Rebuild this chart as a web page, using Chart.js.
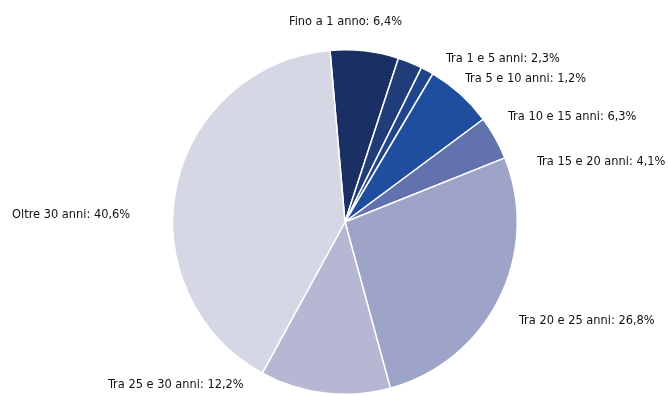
<!DOCTYPE html>
<html>
<head>
<meta charset="utf-8">
<script src="https://cdn.jsdelivr.net/npm/chart.js@4/dist/chart.umd.min.js"></script>
<style>
  html, body { margin: 0; padding: 0; background: #fff; }
  #wrap { width: 668px; height: 396px; position: relative; }
</style>
</head>
<body>
<div id="wrap"><canvas id="pieChart" width="668" height="396"></canvas></div>
<script>
const categories = [
    'Fino a 1 anno',
    'Tra 1 e 5 anni',
    'Tra 5 e 10 anni',
    'Tra 10 e 15 anni',
    'Tra 15 e 20 anni',
    'Tra 20 e 25 anni',
    'Tra 25 e 30 anni',
    'Oltre 30 anni',
];
const shares = [6.4, 2.3, 1.2, 6.3, 4.1, 26.8, 12.2, 40.6];
const sliceColors = ['#1a3064', '#203c79', '#21458b', '#1f4e9f', '#6272ae', '#9ea3c8', '#b6b8d3', '#d6d7e5'];

// left edge / vertical middle of each outside label
const labelAnchors = [
    [289, 22], [446, 59], [465, 79], [508, 117],
    [537, 162], [519, 321], [108, 385], [12, 215],
];

const fmt = (v) => v.toFixed(1).replace('.', ',') + '%';

const outsideLabels = {
    id: 'outsideLabels',
    afterDraw(chart) {
        const ctx = chart.ctx;
        ctx.save();
        ctx.font = '12.7px "Liberation Sans Narrow", "DejaVu Sans Condensed", sans-serif';
        ctx.fillStyle = '#111111';
        ctx.textAlign = 'left';
        ctx.textBaseline = 'middle';
        categories.forEach((name, i) => {
            const [x, y] = labelAnchors[i];
            ctx.fillText(name + ': ' + fmt(shares[i]), x, y);
        });
        ctx.restore();
    },
};

new Chart(document.getElementById('pieChart'), {
    type: 'pie',
    data: {
        labels: categories,
        datasets: [{
            data: shares,
            backgroundColor: sliceColors,
            borderColor: '#ffffff',
            borderWidth: 1.5,
        }],
    },
    options: {
        responsive: false,
        animation: false,
        rotation: -5,
        layout: {
            padding: { left: 172, right: 150, top: 49, bottom: 1 },
        },
        plugins: {
            legend: { display: false },
            tooltip: { enabled: false },
        },
    },
    plugins: [outsideLabels],
});
</script>
</body>
</html>
